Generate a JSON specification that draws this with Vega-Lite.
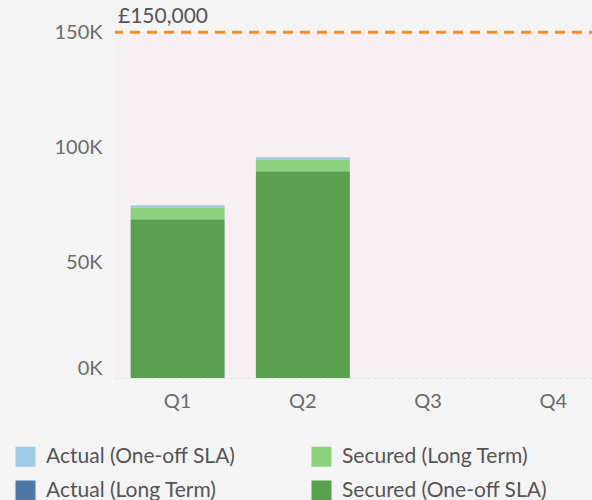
{
  "$schema": "https://vega.github.io/schema/vega-lite/v6.json",
  "autosize": "none",
  "width": 501,
  "height": 378,
  "padding": {"left": 115, "top": 0, "right": 0, "bottom": 122},
  "background": "#f4f4f4",
  "config": {
    "view": {"stroke": null},
    "font": "Lato",
    "axis": {"labelFont": "Lato", "labelColor": "#6b6b6b", "labelFontSize": 20, "title": null, "grid": false, "ticks": false},
    "legend": {"labelFont": "Lato", "labelFontSize": 21, "labelColor": "#555555"}
  },
  "datasets": {
    "bars": [
      {"quarter": "Q1", "type": "Secured (One-off SLA)", "value": 68900},
      {"quarter": "Q1", "type": "Secured (Long Term)", "value": 5200},
      {"quarter": "Q1", "type": "Actual (Long Term)", "value": 0},
      {"quarter": "Q1", "type": "Actual (One-off SLA)", "value": 900},
      {"quarter": "Q2", "type": "Secured (One-off SLA)", "value": 89700},
      {"quarter": "Q2", "type": "Secured (Long Term)", "value": 5200},
      {"quarter": "Q2", "type": "Actual (Long Term)", "value": 0},
      {"quarter": "Q2", "type": "Actual (One-off SLA)", "value": 900}
    ],
    "target": [{"target": 150000, "label": "£150,000"}]
  },
  "layer": [
    {
      "data": {"name": "target"},
      "mark": {"type": "rect", "color": "#f6f0f3"},
      "encoding": {"y": {"field": "target", "type": "quantitative"}, "y2": {"datum": 0}}
    },
    {
      "data": {"name": "bars"},
      "mark": {"type": "bar"},
      "encoding": {
        "x": {
          "field": "quarter", "type": "ordinal",
          "scale": {"domain": ["Q1", "Q2", "Q3", "Q4"], "paddingInner": 0.25, "paddingOuter": 0.125},
          "axis": {"labelAngle": 0, "labelPadding": 13, "domainColor": "#e0e0e0", "domainDash": [3, 3], "domainWidth": 1}
        },
        "y": {
          "field": "value", "type": "quantitative", "stack": "zero",
          "scale": {"domain": [0, 164000], "nice": false, "zero": true},
          "axis": {"values": [0, 50000, 100000, 150000], "labelExpr": "datum.value/1000 + 'K'", "domain": false, "labelPadding": 13, "labelFlush": true, "labelFlushOffset": 0}
        },
        "color": {
          "field": "type", "type": "nominal",
          "scale": {
            "domain": ["Actual (One-off SLA)", "Actual (Long Term)", "Secured (Long Term)", "Secured (One-off SLA)"],
            "range": ["#a0cbe8", "#4e79a7", "#8cd17d", "#59a14f"]
          },
          "legend": {
            "title": null, "orient": "none", "legendX": -100, "legendY": 446, "columns": 2,
            "symbolType": "square", "symbolSize": 400, "symbolStrokeWidth": 0, "symbolOpacity": 1,
            "labelOffset": 10, "labelLimit": 400, "rowPadding": 12, "columnPadding": 75, "padding": 0
          }
        },
        "order": {"field": "type", "sort": "descending"}
      }
    },
    {
      "data": {"name": "target"},
      "mark": {"type": "rule", "color": "#f28e2b", "strokeWidth": 3, "strokeDash": [10, 7]},
      "encoding": {"y": {"field": "target", "type": "quantitative"}}
    },
    {
      "data": {"name": "target"},
      "mark": {"type": "text", "align": "left", "baseline": "bottom", "dx": 3, "dy": -5, "fontSize": 21, "color": "#555555", "font": "Lato", "x": 0},
      "encoding": {"y": {"field": "target", "type": "quantitative"}, "text": {"field": "label"}}
    }
  ]
}
